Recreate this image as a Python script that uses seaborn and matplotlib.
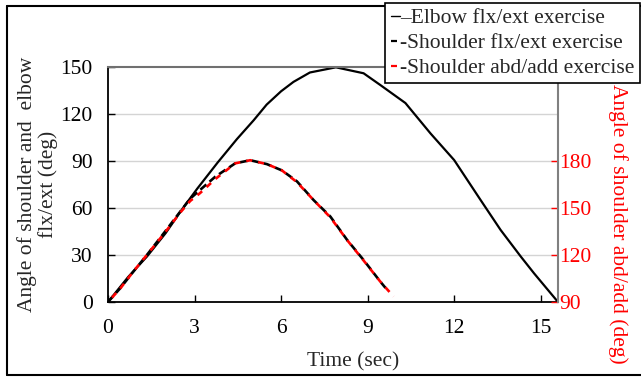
import matplotlib
matplotlib.use("Agg")
import matplotlib.pyplot as plt
from matplotlib.lines import Line2D
import seaborn as sns
import pandas as pd

# ---- data ----
elbow_t = [0, 0.7, 1.35, 2.0, 2.6, 3.1, 3.8, 4.47, 5.05, 5.5, 6.0, 6.43, 7.0, 7.9,
           8.86, 9.44, 10.31, 11.18, 12.0, 12.92, 13.61, 14.31, 14.77, 15.6]
elbow_v = [0, 16, 29, 44, 60, 72.5, 89, 104, 116, 126, 134.5, 140.5, 146.5, 149.8,
           146, 138.5, 127, 107.6, 90.6, 65, 46, 29, 18.3, 0]

sh_flx_t = [0, 0.42, 0.88, 1.39, 1.98, 2.5, 2.85, 3.19, 3.72, 4.41, 4.93, 5.51,
            6.03, 6.55, 7.13, 7.71, 8.29, 8.86, 9.44, 9.62]
sh_flx_v = [0, 8.7, 19.4, 31, 45, 57.6, 66, 71.5, 80, 88.5, 90.5, 88,
            84, 77, 65, 54.5, 39.6, 26.8, 13, 9]

sh_abd_t = [0, 0.42, 0.88, 1.39, 1.98, 2.5, 2.85, 3.19, 3.72, 4.41, 4.93, 5.51,
            6.03, 6.55, 7.13, 7.71, 8.29, 8.86, 9.44, 9.9]
sh_abd_v = [90, 98.5, 109.5, 121, 134.5, 147, 154.5, 159.5, 168.5, 178.5, 180.5, 178,
            174, 166.5, 155, 144, 129.5, 116.5, 103, 93.5]

x_ticks = [0, 3, 6, 9, 12, 15]
y_ticks = [0, 30, 60, 90, 120, 150]
y2_ticks = [90, 120, 150, 180]

labels = ["\u2013Elbow flx/ext exercise", "-Shoulder flx/ext exercise", "-Shoulder abd/add exercise"]

sns.set_theme(style="white")
plt.rcParams["font.family"] = ["Liberation Serif", "DejaVu Serif"]

fig = plt.figure(figsize=(6.41, 3.79), dpi=100)
ax = fig.add_axes([108 / 641, 1 - 302 / 379, 450 / 641, 235 / 379])
ax2 = ax.twinx()

df_e = pd.DataFrame({"t": elbow_t, "v": elbow_v})
df_f = pd.DataFrame({"t": sh_flx_t, "v": sh_flx_v})
df_a = pd.DataFrame({"t": sh_abd_t, "v": sh_abd_v})

for y in [30, 60, 90, 120]:
    ax.axhline(y, color="#d4d4d4", lw=1.0, zorder=0)

sns.lineplot(data=df_e, x="t", y="v", ax=ax, color="black", lw=1.6, sort=False)
sns.lineplot(data=df_f, x="t", y="v", ax=ax, color="black", lw=1.9, sort=False,
             linestyle=(0, (3, 1.6)))
sns.lineplot(data=df_a, x="t", y="v", ax=ax2, color="red", lw=1.9, sort=False,
             linestyle=(2.3, (2.3, 2.3)))

ax.set_xlim(0, 15.6)
ax.set_ylim(0, 150)
ax2.set_ylim(90, 240)
ax.set_xticks(x_ticks)
ax.set_yticks(y_ticks)
ax2.set_yticks(y2_ticks)

fs = 15.5
ax.tick_params(axis="both", direction="in", length=5, width=1, labelsize=fs,
               colors="black", left=True, bottom=True)
ax.tick_params(axis="y", pad=11)
ax.tick_params(axis="x", pad=12)
ax2.tick_params(axis="y", direction="in", length=5, width=1, labelsize=fs,
                colors="red", pad=1, right=True)

for s in ["left", "bottom"]:
    ax.spines[s].set_color("black")
    ax.spines[s].set_linewidth(1.3)
ax.spines["top"].set_color("#707070")
ax.spines["top"].set_linewidth(1.5)
ax2.spines["right"].set_color("#808080")
ax2.spines["right"].set_linewidth(1.5)
ax2.spines["top"].set_visible(False)
ax2.spines["left"].set_visible(False)
ax2.spines["bottom"].set_visible(False)
ax.spines["right"].set_visible(False)

ax.set_xlabel("Time (sec)", fontsize=fs)
ax.xaxis.set_label_coords(0.544, -0.215)
ax.set_ylabel("Angle of shoulder and  elbow\nflx/ext (deg)", fontsize=fs, linespacing=1.05)
ax.yaxis.set_label_coords(-0.112, 0.5)
ax2.set_ylabel("")
fig.text(618 / 641, 1 - 224 / 379, "Angle of shoulder abd/add (deg)", color="red",
         fontsize=fs, rotation=-90, ha="center", va="center")

# figure border
for xs, ys in [([7 / 641, 7 / 641], [1 - 6 / 379, 1 - 375 / 379]),
               ([7 / 641, 1.0], [1 - 6 / 379, 1 - 6 / 379]),
               ([7 / 641, 1.0], [1 - 375 / 379, 1 - 375 / 379])]:
    fig.add_artist(Line2D(xs, ys, color="black", lw=1.5, transform=fig.transFigure))

handles = [Line2D([], [], color="black", lw=1.0),
           Line2D([], [], color="black", lw=1.6, linestyle=(0, (2.7, 4.5))),
           Line2D([], [], color="red", lw=1.6, linestyle=(0, (2.7, 4.5)))]
leg = fig.legend(handles, labels, loc="upper right", bbox_to_anchor=(640 / 641, 1 - 3 / 379),
                 frameon=True, fancybox=False, fontsize=15.5, handlelength=0.45,
                 handletextpad=0.0, borderpad=0.25, labelspacing=0.22, borderaxespad=0)
leg.get_frame().set_edgecolor("black")
leg.get_frame().set_linewidth(1.2)
leg.get_frame().set_alpha(1)
leg.set_zorder(10)

fig.savefig("out.png", dpi=100)
